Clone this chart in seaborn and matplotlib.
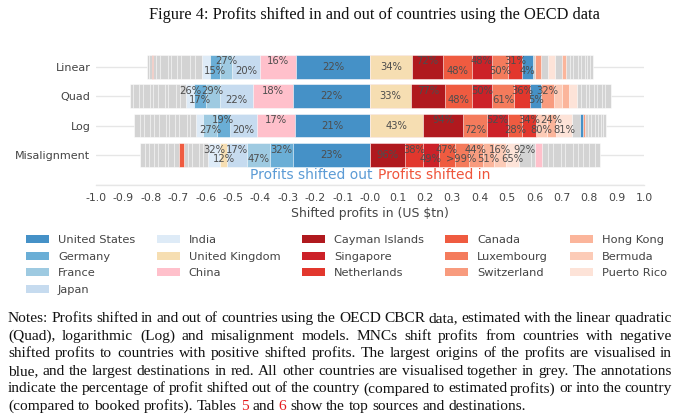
import matplotlib
matplotlib.use('Agg')
import matplotlib.pyplot as plt
from matplotlib.patches import Patch
import seaborn as sns
import numpy as np
import pandas as pd

# figure size in pixels
W, H = 680, 415

models = ['Linear', 'Quad', 'Log', 'Misalignment']
cats = models + ['']

# shifted profits (US $tn), listed from zero outwards
# profits shifted out -> left of zero, profits shifted in -> right of zero
linear_out = ['United States', 'China', 'Japan', 'France', 'Germany', 'India'] + ['Other'] * 9 + ['Other (red)'] + ['Other'] * 2
linear_out_vals = [0.270, 0.131, 0.103, 0.043, 0.036, 0.030,
                   0.026, 0.018, 0.033, 0.015, 0.022, 0.011, 0.029, 0.015, 0.011, 0.004, 0.009, 0.007]
linear_out_text = ['22%', '16%', '20%', '27%', '15%']

linear_in = ['United Kingdom', 'Cayman Islands', 'Canada', 'Singapore', 'Luxembourg', 'Netherlands', 'Other (blue)',
             'Other', 'Switzerland', 'Other', 'Puerto Rico', 'Other', 'Hong Kong'] + ['Other'] * 8
linear_in_vals = [0.152, 0.115, 0.104, 0.075, 0.058, 0.049, 0.042, 0.006, 0.022, 0.026, 0.026, 0.024, 0.015,
                  0.015, 0.011, 0.018, 0.011, 0.015, 0.007, 0.011, 0.013]
linear_in_text = ['34%', '72%', '48%', '48%', '50%', '31%', '4%']

quad_out = ['United States', 'China', 'Japan', 'France', 'Germany', 'India'] + ['Other'] * 11
quad_out_vals = [0.280, 0.146, 0.122, 0.052, 0.042, 0.028,
                 0.022, 0.015, 0.030, 0.012, 0.026, 0.018, 0.011, 0.024, 0.016, 0.020, 0.013]
quad_out_text = ['22%', '18%', '22%', '29%', '17%', '26%']

quad_in = ['United Kingdom', 'Cayman Islands', 'Canada', 'Singapore', 'Luxembourg', 'Netherlands', 'Other (blue)',
           'Switzerland', 'Bermuda', 'Hong Kong', 'Puerto Rico'] + ['Other'] * 8
quad_in_vals = [0.150, 0.122, 0.100, 0.075, 0.077, 0.061, 0.040, 0.045, 0.031, 0.024, 0.031,
                0.014, 0.020, 0.010, 0.018, 0.012, 0.016, 0.011, 0.021]
quad_in_text = ['33%', '77%', '48%', '50%', '61%', '36%', '5%', '32%']

log_out = ['United States', 'China', 'Japan', 'Germany', 'France', 'India'] + ['Other'] * 12
log_out_vals = [0.274, 0.140, 0.097, 0.049, 0.049, 0.027,
                0.020, 0.013, 0.027, 0.016, 0.022, 0.012, 0.025, 0.018, 0.014, 0.021, 0.017, 0.021]
log_out_text = ['21%', '17%', '20%', '19%', '27%']

log_in = ['United Kingdom', 'Cayman Islands', 'Luxembourg', 'Singapore', 'Canada', 'Netherlands', 'Bermuda',
          'Hong Kong', 'Puerto Rico', 'Other', 'Other (blue)', 'Switzerland'] + ['Other'] * 7
log_in_vals = [0.195, 0.146, 0.085, 0.077, 0.051, 0.052, 0.040, 0.033, 0.060, 0.028, 0.009, 0.009,
               0.012, 0.009, 0.015, 0.010, 0.013, 0.008, 0.010]
log_in_text = ['43%', '94%', '72%', '52%', '28%', '34%', '80%', '24%', '81%']

mis_out = ['United States', 'Germany', 'France', 'Japan', 'United Kingdom', 'India'] + ['Other'] * 5 + ['Other (red)'] + ['Other'] * 8
mis_out_vals = [0.280, 0.085, 0.083, 0.073, 0.027, 0.043,
                0.020, 0.014, 0.026, 0.012, 0.016, 0.018, 0.017, 0.022, 0.012, 0.025, 0.015, 0.019, 0.013, 0.020]
mis_out_text = ['23%', '32%', '47%', '17%', '12%', '32%']

mis_in = ['Cayman Islands', 'Netherlands', 'Singapore', 'Canada', 'Luxembourg', 'Switzerland', 'Hong Kong',
          'Bermuda', 'Puerto Rico', 'Other', 'Other', 'China'] + ['Other'] * 10
mis_in_vals = [0.128, 0.065, 0.058, 0.058, 0.051, 0.051, 0.040, 0.047, 0.044, 0.044, 0.018, 0.022,
               0.024, 0.018, 0.030, 0.015, 0.027, 0.020, 0.016, 0.025, 0.019, 0.018]
mis_in_text = ['96%', '38%', '49%', '47%', '>99%', '44%', '51%', '16%', '65%', '92%']

x_ticks = np.round(np.linspace(-1, 1, 21), 1)
x_tick_labels = ['-1.0', '-0.9', '-0.8', '-0.7', '-0.6', '-0.5', '-0.4', '-0.3', '-0.2', '-0.1', '-0.0',
                 '0.1', '0.2', '0.3', '0.4', '0.5', '0.6', '0.7', '0.8', '0.9', '1.0']

legend_names = ['United States', 'Germany', 'France', 'Japan', 'India', 'United Kingdom', 'China',
                'Cayman Islands', 'Singapore', 'Netherlands', 'Canada', 'Luxembourg', 'Switzerland',
                'Hong Kong', 'Bermuda', 'Puerto Rico']

palette = {
    'United States': '#4591c7', 'Germany': '#6aaed6', 'France': '#9ecae1', 'Japan': '#c6dbef',
    'India': '#deebf7', 'United Kingdom': '#f6deb2', 'China': '#ffc0cb',
    'Cayman Islands': '#b0191e', 'Singapore': '#cc2128', 'Netherlands': '#e2372d',
    'Canada': '#ef5b40', 'Luxembourg': '#f47b5c', 'Switzerland': '#f89b7e',
    'Hong Kong': '#fbb59b', 'Bermuda': '#fccbb7', 'Puerto Rico': '#fde3d8',
    'Other': '#d3d3d3', 'Other (blue)': '#4591c7', 'Other (red)': '#ef5b40',
}

notes = [
    "Notes: Profits shifted in and out of countries using the OECD CBCR data, estimated with the linear quadratic",
    "(Quad), logarithmic (Log) and misalignment models.  MNCs shift profits from countries with negative",
    "shifted profits to countries with positive shifted profits.  The largest origins of the profits are visualised in",
    "blue, and the largest destinations in red.  All other countries are visualised together in grey.  The annotations",
    "indicate the percentage of profit shifted out of the country (compared to estimated profits) or into the country",
    "(compared to booked profits). Tables 5 and 6 show the top sources and destinations.",
]

# build segment table (relative stacking from zero)
parts = [
    ('Linear', linear_out, linear_out_vals, linear_out_text, -1),
    ('Linear', linear_in, linear_in_vals, linear_in_text, 1),
    ('Quad', quad_out, quad_out_vals, quad_out_text, -1),
    ('Quad', quad_in, quad_in_vals, quad_in_text, 1),
    ('Log', log_out, log_out_vals, log_out_text, -1),
    ('Log', log_in, log_in_vals, log_in_text, 1),
    ('Misalignment', mis_out, mis_out_vals, mis_out_text, -1),
    ('Misalignment', mis_in, mis_in_vals, mis_in_text, 1),
]
rows = []
for model, names, vals, texts, sign in parts:
    cum = 0.0
    for i, (n, v) in enumerate(zip(names, vals)):
        rows.append(dict(model=model, side=sign, country=n, rank=i,
                         start=cum, end=cum + sign * v,
                         text=texts[i] if i < len(texts) else ''))
        cum += sign * v
seg = pd.DataFrame(rows)

sns.set_theme(style='white')
plt.rcParams['font.family'] = ['DejaVu Sans']
plt.rcParams['axes.unicode_minus'] = False

fig = plt.figure(figsize=(W / 100, H / 100), dpi=100)
ax = fig.add_axes([96 / W, 1 - 184.5 / H, 548 / W, 132.5 / H])

# stacked bars: draw cumulative bars from the outside in
for (model, side), grp in seg.groupby(['model', 'side'], sort=False):
    for _, r in grp.iloc[::-1].iterrows():
        sns.barplot(x=[r['end']], y=[model], order=cats, orient='h',
                    color=palette[r['country']], saturation=1, width=0.8,
                    edgecolor='white', linewidth=0.4, errorbar=None, ax=ax)

# percentage annotations
offsets = {'mid': 0.0, 'top': -0.18, 'bottom': 0.14}
for _, r in seg[seg['text'] != ''].iterrows():
    if r['rank'] == 0:
        pos = 'mid'
    elif r['rank'] % 2 == 1:
        pos = 'top'
    else:
        pos = 'bottom'
    ax.text((r['start'] + r['end']) / 2, models.index(r['model']) + offsets[pos], r['text'],
            ha='center', va='center', fontsize=7.2, color='#4d4d4d', zorder=5)

ax.text(0.01, 3.68, 'Profits shifted out', ha='right', va='center', fontsize=10, color='#5b9bd5')
ax.text(0.03, 3.68, 'Profits shifted in', ha='left', va='center', fontsize=10, color='#ef553b')

ax.set_xlim(-1, 1)
ax.set_ylim(4, -0.5)
ax.set_xticks(x_ticks)
ax.set_xticklabels(x_tick_labels)
ax.set_yticks(range(len(cats)))
ax.set_yticklabels(cats)
ax.tick_params(axis='x', length=0, pad=6, labelsize=7.8, labelcolor='#444444')
ax.tick_params(axis='y', length=0, pad=4, labelsize=8, labelcolor='#444444')
ax.set_xlabel('Shifted profits in (US \\$tn)', fontsize=8.9, color='#444444', labelpad=3)
ax.set_ylabel('')
ax.yaxis.grid(True, color='#e6e6e6', linewidth=1)
ax.xaxis.grid(False)
ax.set_axisbelow(True)
for s in ['left', 'top', 'right']:
    ax.spines[s].set_visible(False)
ax.spines['bottom'].set_color('#e6e6e6')
ax.spines['bottom'].set_linewidth(1)

handles = [Patch(facecolor=palette[n], edgecolor='none', label=n) for n in legend_names]
leg = fig.legend(handles=handles, ncol=5, loc='upper left', bbox_to_anchor=(26 / W, 1 - 235 / H),
                 bbox_transform=fig.transFigure, frameon=False, fontsize=8.2,
                 handlelength=2.0, handleheight=0.7, handletextpad=0.8, columnspacing=1.9,
                 labelspacing=0.58, borderpad=0, borderaxespad=0)
for t in leg.get_texts():
    t.set_color('#444444')

# title and notes in serif
serif = 'Liberation Serif'
fig.text(374 / W, 1 - 15 / H, 'Figure 4: Profits shifted in and out of countries using the OECD data',
         ha='center', va='center', family=serif, fontsize=11.8, color='#111111')

note_size = 11.1
renderer = fig.canvas.get_renderer()
a = fig.text(0, 0, 'a a', family=serif, fontsize=note_size)
b = fig.text(0, 0, 'aa', family=serif, fontsize=note_size)
space_w = a.get_window_extent(renderer).width - b.get_window_extent(renderer).width
a.remove()
b.remove()

left_px, right_px = 8, 672
for i, line in enumerate(notes):
    words = line.split()
    y = 1 - (322 + 17.6 * i) / H
    texts = []
    for w in words:
        c = '#e41a1c' if (i == len(notes) - 1 and w in ('5', '6')) else '#111111'
        texts.append(fig.text(0, y, w, family=serif, fontsize=note_size, color=c, va='baseline'))
    widths = [t.get_window_extent(renderer).width for t in texts]
    if i < len(notes) - 1:
        gap = (right_px - left_px - sum(widths)) / (len(words) - 1)
    else:
        gap = space_w
    x = left_px
    for t, wd in zip(texts, widths):
        t.set_x(x / W)
        x += wd + gap

fig.savefig('out.png', dpi=100)
